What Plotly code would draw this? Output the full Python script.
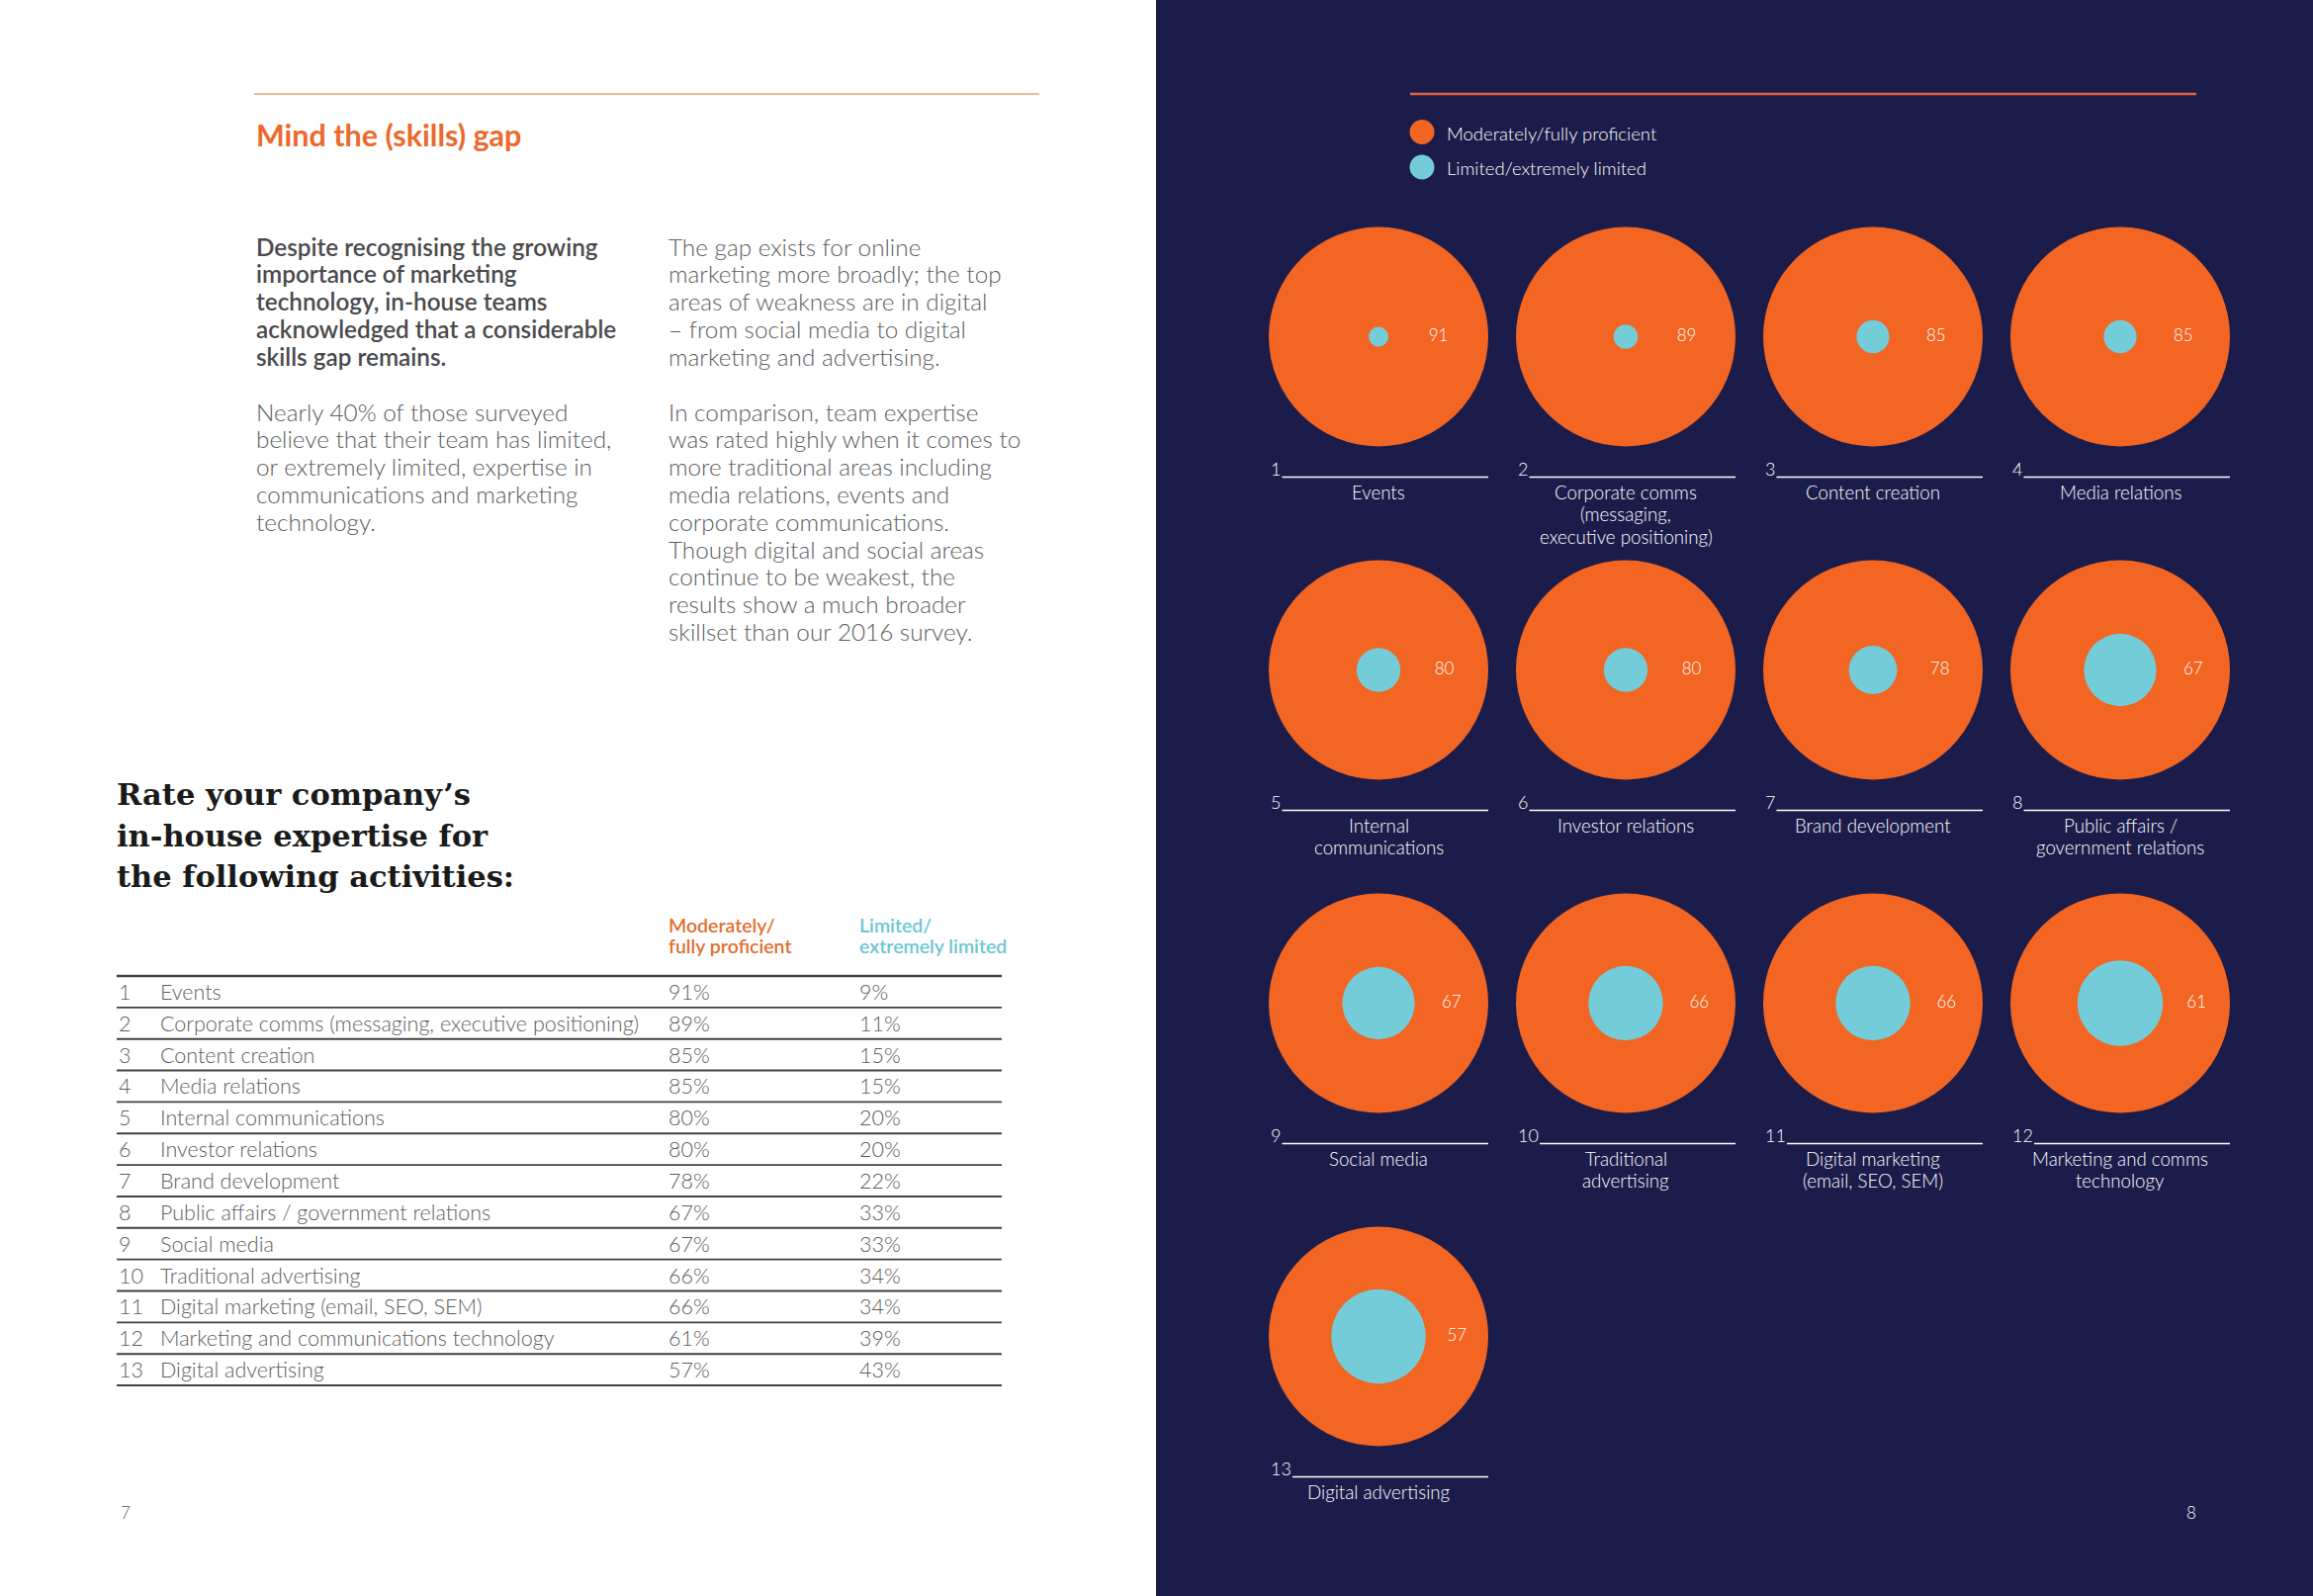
import plotly.graph_objects as go

W, H = 2339, 1614

# ---------------- data ----------------
ranks = list(range(1, 14))
activities = [
    "Events",
    "Corporate comms (messaging, executive positioning)",
    "Content creation",
    "Media relations",
    "Internal communications",
    "Investor relations",
    "Brand development",
    "Public affairs / government relations",
    "Social media",
    "Traditional advertising",
    "Digital marketing (email, SEO, SEM)",
    "Marketing and communications technology",
    "Digital advertising",
]
circle_labels = [
    ["Events"],
    ["Corporate comms", "(messaging,", "executive positioning)"],
    ["Content creation"],
    ["Media relations"],
    ["Internal", "communications"],
    ["Investor relations"],
    ["Brand development"],
    ["Public affairs /", "government relations"],
    ["Social media"],
    ["Traditional", "advertising"],
    ["Digital marketing", "(email, SEO, SEM)"],
    ["Marketing and comms", "technology"],
    ["Digital advertising"],
]
proficient = [91, 89, 85, 85, 80, 80, 78, 67, 67, 66, 66, 61, 57]
limited = [9, 11, 15, 15, 20, 20, 22, 33, 33, 34, 34, 39, 43]

series_names = ["Moderately/fully proficient", "Limited/extremely limited"]
col_headers = [["Moderately/", "fully proficient"], ["Limited/", "extremely limited"]]

heading = "Mind the (skills) gap"
intro_bold = ["Despite recognising the growing", "importance of marketing",
              "technology, in-house teams", "acknowledged that a considerable",
              "skills gap remains."]
intro_light = ["Nearly 40% of those surveyed", "believe that their team has limited,",
               "or extremely limited, expertise in", "communications and marketing",
               "technology."]
col2_a = ["The gap exists for online", "marketing more broadly; the top",
          "areas of weakness are in digital", "– from social media to digital",
          "marketing and advertising."]
col2_b = ["In comparison, team expertise", "was rated highly when it comes to",
          "more traditional areas including", "media relations, events and",
          "corporate communications.", "Though digital and social areas",
          "continue to be weakest, the", "results show a much broader",
          "skillset than our 2016 survey."]
question = ["Rate your company’s", "in-house expertise for", "the following activities:"]
page_numbers = ["7", "8"]

# ---------------- styles ----------------
ORANGE = "#F26522"
CYAN = "#74CCD8"
NAVY = "#1C1C4A"
GREY = "#5C5C5E"
DARK = "#4A4A4C"
SANS = "Lato"
SERIF = "DejaVu Serif"

fig = go.Figure()
shapes = []
ann = []


def text(x, y, s, size, color, weight=300, family=SANS, xanchor="left", yanchor="middle", align="left"):
    ann.append(dict(x=x, y=y, xref="x", yref="y", text=s, showarrow=False,
                    xanchor=xanchor, yanchor=yanchor, align=align,
                    font=dict(family=family, size=size, color=color, weight=weight)))


# right dark page
shapes.append(dict(type="rect", xref="x", yref="y", x0=1169, x1=W, y0=0, y1=H,
                   fillcolor=NAVY, line_width=0, layer="below"))
# rules at top
shapes.append(dict(type="line", xref="x", yref="y", x0=257, x1=1051, y0=95, y1=95,
                   line=dict(color="#EDA27C", width=1.5)))
shapes.append(dict(type="line", xref="x", yref="y", x0=1426, x1=2221, y0=95, y1=95,
                   line=dict(color="#E2623F", width=2.5)))

# ---------------- left page text ----------------
text(257, 136, heading, 30.5, "#EC692D", weight=700)
LS = 27.8
BODY = 24.3
for i, s in enumerate(intro_bold):
    text(257, 249 + i * LS, s, BODY, DARK, weight=600)
for i, s in enumerate(intro_light):
    text(257, 416 + i * LS, s, BODY, GREY)
for i, s in enumerate(col2_a):
    text(674, 249 + i * LS, s, BODY, GREY)
for i, s in enumerate(col2_b):
    text(674, 416 + i * LS, s, BODY, GREY)

for i, s in enumerate(question):
    text(116, 803 + i * 41.5, s, 30.5, "#1A1A1A", weight=700, family=SERIF)

# ---------------- table ----------------
TX0, TX1 = 118, 1013
TTOP, RH = 987, 31.85
COLX = [674, 867]
HEAD_COL = ["#E0702F", "#6CC6D1"]
for c in range(2):
    for j, s in enumerate(col_headers[c]):
        text(COLX[c], 935 + j * 21, s, 19.5, HEAD_COL[c], weight=600)
for k in range(len(ranks) + 1):
    yk = TTOP + k * RH
    shapes.append(dict(type="line", xref="x", yref="y", x0=TX0, x1=TX1, y0=yk, y1=yk,
                       line=dict(color="#404042", width=2.4 if k == 0 else 1.9)))
TFS = 21.5
for i, (r, a, p, l) in enumerate(zip(ranks, activities, proficient, limited)):
    yc = TTOP + (i + 0.5) * RH
    text(TX0, yc, str(r), TFS, GREY)
    text(160, yc, a, TFS, GREY)
    text(COLX[0], yc, f"{p}%", TFS, GREY)
    text(COLX[1], yc, f"{l}%", TFS, GREY)

text(120, 1529, page_numbers[0], 17, GREY)

# ---------------- right page: legend ----------------
leg_y = [133.5, 169]
fig.add_trace(go.Scatter(x=[1438, 1438], y=leg_y, mode="markers",
                         marker=dict(size=25, color=[ORANGE, CYAN], line_width=0, opacity=1),
                         hoverinfo="skip", showlegend=False))
for s, yy in zip(series_names, leg_y):
    text(1461, yy + 1, s, 18.5, "#FFFFFF")

# ---------------- circles ----------------
R = 111
CX0, DX = 1394, 250
CY0, DY = 340.5, 337
cx = [CX0 + (i % 4) * DX for i in range(len(ranks))]
cy = [CY0 + (i // 4) * DY for i in range(len(ranks))]

fig.add_trace(go.Scatter(x=cx, y=cy, mode="markers", name=series_names[0],
                         marker=dict(size=2 * R, color=ORANGE, line_width=0, opacity=1),
                         hoverinfo="skip", showlegend=False))
fig.add_trace(go.Scatter(x=cx, y=cy, mode="markers", name=series_names[1],
                         marker=dict(size=[2 * R * v / 100 for v in limited], color=CYAN,
                                     line_width=0, opacity=1),
                         hoverinfo="skip", showlegend=False))
lab_x = [c + (R * v / 100 + R) / 2 for c, v in zip(cx, limited)]
fig.add_trace(go.Scatter(x=lab_x, y=cy, mode="text", text=[str(v) for v in proficient],
                         textposition="middle center",
                         textfont=dict(family=SANS, size=17, color="#FFFFFF", weight=300),
                         hoverinfo="skip", showlegend=False))

for i, (r, lab) in enumerate(zip(ranks, circle_labels)):
    x, y = cx[i], cy[i]
    nd = len(str(r))
    text(x - 111, y + 133, str(r), 18, "#FFFFFF")
    shapes.append(dict(type="line", xref="x", yref="y", x0=x - 111 + 10.5 * nd + 3, x1=x + R,
                       y0=y + 142, y1=y + 142, line=dict(color="#FFFFFF", width=1.4)))
    for j, s in enumerate(lab):
        text(x, y + 157 + j * 22.5, s, 18.7, "#FFFFFF", xanchor="center", align="center")

text(2223, 1529, page_numbers[1], 17, "#FFFFFF", xanchor="right")

fig.update_layout(
    width=W, height=H, margin=dict(l=0, r=0, t=0, b=0),
    paper_bgcolor="#FFFFFF", plot_bgcolor="#FFFFFF",
    xaxis=dict(range=[0, W], visible=False, fixedrange=True),
    yaxis=dict(range=[H, 0], visible=False, fixedrange=True),
    shapes=shapes, annotations=ann, showlegend=False, hovermode=False,
)
fig.write_html("out.html", config={"displayModeBar": False},
               post_script="document.body.style.margin='0';")
